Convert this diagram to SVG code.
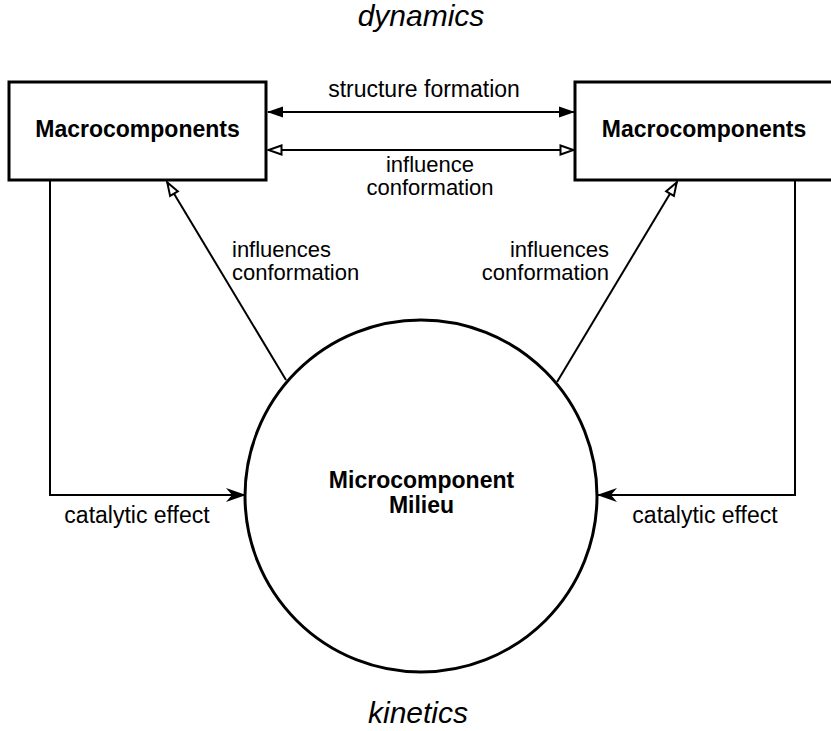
<svg xmlns="http://www.w3.org/2000/svg" width="831" height="731" viewBox="0 0 831 731">
<style>
.box{fill:#fff;stroke:#000;stroke-width:3}
.circ{fill:#fff;stroke:#000;stroke-width:3}
.ln{fill:none;stroke:#000;stroke-width:2}
.t{font-family:"Liberation Sans",Arial,sans-serif;font-size:23px;fill:#000}
.s{font-size:22px}
.b{font-weight:bold}
.i{font-style:italic;font-size:30px}
</style>
<defs>
<marker id="filled" viewBox="0 0 16 12" refX="15" refY="6" markerWidth="16" markerHeight="12" markerUnits="userSpaceOnUse" orient="auto-start-reverse">
<path d="M0,0.5 L16,6 L0,11.5 z" fill="#000"/>
</marker>
<marker id="hollow" viewBox="0 0 16 12" refX="15" refY="6" markerWidth="16" markerHeight="12" markerUnits="userSpaceOnUse" orient="auto-start-reverse">
<path d="M1.5,1.5 L14.5,6 L1.5,10.5 z" fill="#fff" stroke="#000" stroke-width="2"/>
</marker>
<marker id="barb" viewBox="0 0 20 14" refX="19" refY="7" markerWidth="20" markerHeight="14" markerUnits="userSpaceOnUse" orient="auto">
<path d="M0,0 L20,7 L0,14 L6,7 z" fill="#000"/>
</marker>
</defs>
<text class="t i" x="421" y="26" text-anchor="middle">dynamics</text>
<text class="t i" x="418" y="723" text-anchor="middle">kinetics</text>
<g id="connectors">
<line class="ln" x1="268" y1="112" x2="574" y2="112" marker-start="url(#filled)" marker-end="url(#filled)"/>
<line class="ln" x1="268" y1="150" x2="574" y2="150" marker-start="url(#hollow)" marker-end="url(#hollow)"/>
<line class="ln" x1="286" y1="380" x2="167" y2="182" marker-end="url(#hollow)"/>
<line class="ln" x1="557" y1="382" x2="677" y2="182" marker-end="url(#hollow)"/>
<polyline class="ln" points="50,180 50,495 245,495" marker-end="url(#barb)"/>
<polyline class="ln" points="795,181 795,495 598,495" marker-end="url(#barb)"/>
<text class="t" x="424" y="97" text-anchor="middle">structure formation</text>
<text class="t s" x="430" y="172" text-anchor="middle">influence</text>
<text class="t s" x="430" y="195" text-anchor="middle">conformation</text>
<text class="t s" x="232" y="257">influences</text>
<text class="t s" x="232" y="280">conformation</text>
<text class="t s" x="609" y="257" text-anchor="end">influences</text>
<text class="t s" x="609" y="280" text-anchor="end">conformation</text>
<text class="t" x="137" y="523" text-anchor="middle">catalytic effect</text>
<text class="t" x="705" y="523" text-anchor="middle">catalytic effect</text>
</g>
<g id="macro-left">
<rect class="box" x="9" y="82" width="257" height="98"/>
<text class="t b" x="137.5" y="137" text-anchor="middle">Macrocomponents</text>
</g>
<g id="macro-right">
<rect class="box" x="575" y="82" width="258" height="98"/>
<text class="t b" x="704" y="137" text-anchor="middle">Macrocomponents</text>
</g>
<g id="milieu">
<circle class="circ" cx="421" cy="496" r="176"/>
<text class="t b" x="421.5" y="488" text-anchor="middle">Microcomponent</text>
<text class="t b" x="421.5" y="513" text-anchor="middle">Milieu</text>
</g>
</svg>
